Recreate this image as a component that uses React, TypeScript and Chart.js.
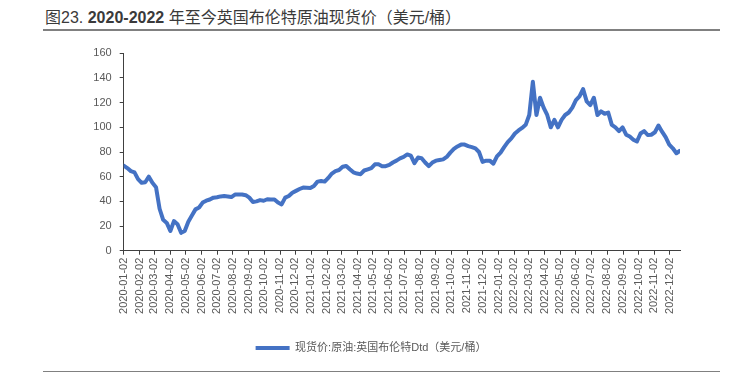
import React, { useEffect, useRef } from "react";
import { Chart, registerables } from "chart.js";

Chart.register(...registerables);

const titleText = "图23. ";
const titleBold = "2020-2022";
const titleRest = " 年至今英国布伦特原油现货价（美元/桶）";
const seriesName = "现货价:原油:英国布伦特Dtd（美元/桶）";

const startDate = "2020-01-02";
const stepDays = 7;

// weekly Dated Brent spot price (USD/bbl)
const brentWeekly = [
  69, 67, 64.5, 63.5, 58, 55, 55.5, 60, 55, 51.5,
  34, 25, 22.5, 16, 24, 21.5, 14.5, 16, 23.5, 28.5,
  33.5, 35, 39, 40.5, 41.5, 43, 43.3, 44, 44.3, 44,
  43.5, 45.5, 45.5, 45.5, 45, 43, 39.5, 40, 41, 40.5,
  41.7, 41.5, 41.5, 39, 37.5, 43, 44.3, 47, 48.5, 50,
  51.2, 51, 50.8, 52.5, 56, 56.5, 56, 59, 62.5, 64.5,
  65.4, 68, 68.7, 66, 63.5, 62.5, 62, 65, 66, 67,
  70, 70, 68.5, 68.5, 69.5, 71.5, 73, 74.8, 76, 78,
  77, 71, 75.5, 75, 71.5, 68.5, 71.4, 73, 73.5, 74,
  76, 79.5, 82.5, 84.5, 86, 86, 84.8, 84, 83, 80,
  72, 73, 73, 70.5, 76.5, 79.5, 84, 88, 91, 95,
  97.5, 99.5, 102, 110, 137, 110, 124, 116, 110, 100,
  106, 100, 106, 110, 112, 116, 122, 125, 131, 121,
  118, 124, 110, 113, 111, 112, 102, 100, 97, 100,
  94, 92.5, 90, 88.5, 95, 97, 93.8, 94, 96, 101.5,
  96.5, 92, 86, 83, 79, 81,
];

const xTickLabels = [
  "2020-01-02", "2020-02-02", "2020-03-02", "2020-04-02", "2020-05-02", "2020-06-02",
  "2020-07-02", "2020-08-02", "2020-09-02", "2020-10-02", "2020-11-02", "2020-12-02",
  "2021-01-02", "2021-02-02", "2021-03-02", "2021-04-02", "2021-05-02", "2021-06-02",
  "2021-07-02", "2021-08-02", "2021-09-02", "2021-10-02", "2021-11-02", "2021-12-02",
  "2022-01-02", "2022-02-02", "2022-03-02", "2022-04-02", "2022-05-02", "2022-06-02",
  "2022-07-02", "2022-08-02", "2022-09-02", "2022-10-02", "2022-11-02", "2022-12-02",
];

const yTicks = [0, 20, 40, 60, 80, 100, 120, 140, 160];

const DAY = 86400000;
const dayOf = (s: string) => (Date.parse(s) - Date.parse(startDate)) / DAY;

const FONT = "'Liberation Sans', Arial, 'Noto Sans CJK SC', sans-serif";
const LINE_COLOR = "#4472C4";
const TEXT_COLOR = "#595959";
const AXIS_COLOR = "#404040";

const legendShift = {
  id: "legendShift",
  afterLayout(chart: any) {
    const lg = chart.legend;
    if (lg) {
      lg.left += 31;
      lg.right += 31;
    }
  },
};

export default function App() {
  const ref = useRef<HTMLCanvasElement | null>(null);

  useEffect(() => {
    if (!ref.current) return;
    const points = brentWeekly.map((v, i) => ({ x: i * stepDays, y: v }));
    const tickDays = xTickLabels.map(dayOf);
    const labelByDay: Record<number, string> = {};
    xTickLabels.forEach((l) => (labelByDay[dayOf(l)] = l));
    const lastDay = (brentWeekly.length - 1) * stepDays;

    const chart = new Chart(ref.current, {
      type: "line",
      data: {
        datasets: [
          {
            label: seriesName,
            data: points,
            borderColor: LINE_COLOR,
            backgroundColor: LINE_COLOR,
            borderWidth: 4,
            pointRadius: 0,
            tension: 0,
            borderJoinStyle: "round",
            borderCapStyle: "round",
          },
        ],
      },
      plugins: [legendShift],
      options: {
        animation: false,
        responsive: false,
        devicePixelRatio: 1,
        layout: { padding: { left: 0, right: 52, top: 53.3, bottom: 14.5 } },
        font: { family: FONT },
        plugins: {
          title: { display: false },
          tooltip: { enabled: false },
          legend: {
            display: true,
            position: "bottom",
            labels: {
              boxWidth: 34,
              boxHeight: 4,
              padding: 10,
              color: TEXT_COLOR,
              font: { family: FONT, size: 11 },
              generateLabels: (c: any) => {
                const items = Chart.defaults.plugins.legend.labels.generateLabels(c);
                return items.map((it: any) => ({ ...it, lineWidth: 0, strokeStyle: "rgba(0,0,0,0)", fillStyle: LINE_COLOR }));
              },
            },
          },
        },
        scales: {
          x: {
            type: "linear",
            min: 0,
            max: lastDay,
            afterBuildTicks: (scale: any) => {
              scale.ticks = tickDays.map((v) => ({ value: v }));
            },
            afterFit: (scale: any) => {
              scale.height = 81.8;
            },
            ticks: {
              autoSkip: false,
              minRotation: 90,
              maxRotation: 90,
              padding: 3,
              color: TEXT_COLOR,
              font: { family: FONT, size: 11 },
              callback: (v: any) => labelByDay[v as number] ?? "",
            },
            grid: {
              display: true,
              drawOnChartArea: false,
              drawTicks: true,
              tickLength: 4,
              color: AXIS_COLOR,
              lineWidth: 1,
            },
            border: { display: true, color: AXIS_COLOR, width: 1 },
          },
          y: {
            type: "linear",
            min: 0,
            max: 160,
            afterBuildTicks: (scale: any) => {
              scale.ticks = yTicks.map((v) => ({ value: v }));
            },
            afterFit: (scale: any) => {
              scale.width = 123.7;
            },
            ticks: {
              padding: 8,
              color: TEXT_COLOR,
              font: { family: FONT, size: 11 },
            },
            grid: {
              display: true,
              drawOnChartArea: false,
              drawTicks: true,
              tickLength: 4,
              color: AXIS_COLOR,
              lineWidth: 1,
            },
            border: { display: true, color: AXIS_COLOR, width: 1 },
          },
        },
      } as any,
    });
    return () => chart.destroy();
  }, []);

  return (
    <div style={{ position: "fixed", left: 0, top: 0, width: 732, height: 378, background: "#fff", overflow: "hidden" }}>
      <div
        style={{
          position: "absolute",
          left: 45,
          top: 7,
          fontFamily: FONT,
          fontSize: 16,
          lineHeight: "21px",
          color: "#3a3a3a",
          whiteSpace: "nowrap",
        }}
      >
        <span>{titleText}</span>
        <span style={{ fontWeight: "bold" }}>{titleBold}</span>
        <span>{titleRest}</span>
      </div>
      <div style={{ position: "absolute", left: 43, top: 29, width: 677, height: 2, background: "#808080" }} />
      <canvas ref={ref} width={732} height={378} style={{ position: "absolute", left: 0, top: 0, width: 732, height: 378 }} />
      <div style={{ position: "absolute", left: 43, top: 371, width: 677, height: 1, background: "#808080" }} />
    </div>
  );
}
